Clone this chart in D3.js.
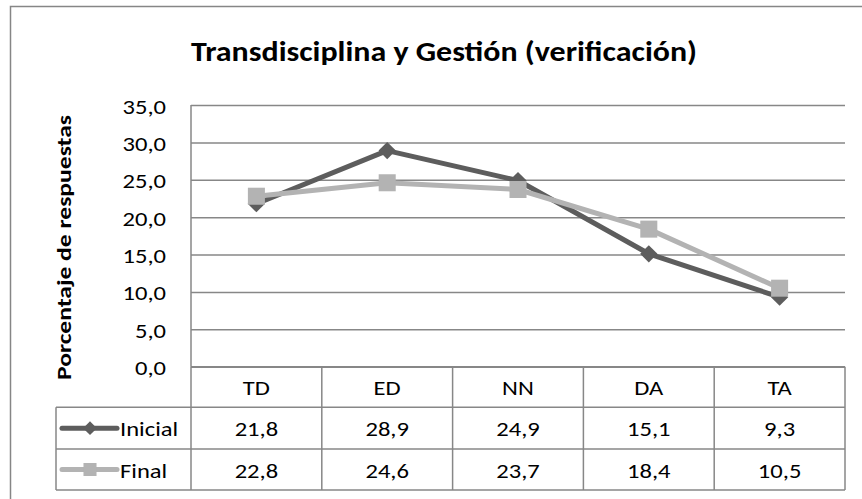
<!DOCTYPE html>
<html>
<head>
<meta charset="utf-8">
<script src="https://cdn.jsdelivr.net/npm/d3@7"></script>
<style>
  body { margin: 0; background: #fff; }
  text { font-family: Carlito, "Liberation Sans Narrow", "Open Sans", sans-serif; fill: #000; }
</style>
</head>
<body>
<div id="chart"></div>
<script>
// chart data
const categories = ["TD", "ED", "NN", "DA", "TA"];
const inicial = [21.8, 28.9, 24.9, 15.1, 9.3];
const final = [22.8, 24.6, 23.7, 18.4, 10.5];
const seriesNames = ["Inicial", "Final"];
const yTicks = [0, 5, 10, 15, 20, 25, 30, 35];
const titleText = "Transdisciplina y Gestión (verificación)";
const yTitle = "Porcentaje de respuestas";

const W = 862, H = 499;
const plot = {left: 191, right: 845, top: 105, bottom: 366.7};
const rowH = [40.6, 41.7, 41];   // header, inicial, final
const legendLeft = 56;
const gridColor = "#878787";
const colors = ["#5d5d5d", "#b3b3b3"];
const bodySize = "21px";
const stretchK = 1.17;

const locale = d3.formatLocale({decimal: ",", thousands: ".", grouping: [3], currency: ["", "€"]});
const fmt = locale.format(".1f");

// widen the glyphs a little along the reading direction
function stretch(sel, k) {
    sel.each(function () {
        const len = this.getComputedTextLength();
        d3.select(this)
            .attr("textLength", len * k)
            .attr("lengthAdjust", "spacingAndGlyphs");
    });
}

const svg = d3.select("#chart").append("svg")
    .attr("width", W)
    .attr("height", H);

// outer frame (continues past the picture edge)
svg.append("rect")
    .attr("x", 10.5).attr("y", 6.5)
    .attr("width", W + 20).attr("height", H + 20)
    .attr("fill", "none")
    .attr("stroke", "#868686")
    .attr("stroke-width", 1.5);

svg.append("text")
    .attr("x", 444).attr("y", 61)
    .attr("text-anchor", "middle")
    .attr("textLength", 506)
    .attr("lengthAdjust", "spacingAndGlyphs")
    .style("font-size", "28px")
    .style("font-weight", "bold")
    .text(titleText);

const xScale = d3.scaleBand().domain(categories).range([plot.left, plot.right]);
const yScale = d3.scaleLinear().domain([0, 35]).range([plot.bottom, plot.top]);

// y axis with gridlines
const yAxisG = svg.append("g")
    .attr("class", "yAxisG")
    .attr("transform", "translate(" + plot.left + ",0)")
    .call(d3.axisLeft(yScale)
        .tickValues(yTicks)
        .tickFormat(fmt)
        .tickSize(-(plot.right - plot.left))
        .tickPadding(25));
yAxisG.select(".domain").remove();
yAxisG.selectAll(".tick line")
    .attr("stroke", gridColor)
    .attr("stroke-width", 1.5);
yAxisG.selectAll(".tick text")
    .style("font-size", bodySize)
    .attr("dy", "8")
    .attr("fill", "#000")
    .call(stretch, stretchK);

svg.append("line")
    .attr("x1", plot.left).attr("x2", plot.left)
    .attr("y1", plot.top).attr("y2", plot.bottom)
    .attr("stroke", gridColor).attr("stroke-width", 1.5);

svg.append("text")
    .attr("transform", "translate(71,247.5) rotate(-90)")
    .attr("text-anchor", "middle")
    .attr("textLength", 265)
    .attr("lengthAdjust", "spacingAndGlyphs")
    .style("font-size", "21px")
    .style("font-weight", "bold")
    .text(yTitle);

// lines + markers
const cx = d => xScale(d) + xScale.bandwidth() / 2;
const line = d3.line().x((v, i) => cx(categories[i])).y(v => yScale(v));
const diamond = d3.symbol().type(d3.symbolDiamond2).size(190);
const square = d3.symbol().type(d3.symbolSquare).size(290);

[inicial, final].forEach((vals, s) => {
    svg.append("path")
        .datum(vals)
        .attr("d", line)
        .attr("fill", "none")
        .attr("stroke", colors[s])
        .attr("stroke-width", 5)
        .attr("stroke-linejoin", "round");
    svg.selectAll(".marker" + s)
        .data(vals)
        .join("path")
        .attr("class", "marker" + s)
        .attr("transform", (v, i) => "translate(" + cx(categories[i]) + "," + yScale(v) + ")")
        .attr("d", s === 0 ? diamond : square)
        .attr("fill", colors[s]);
});

// data table
const y0 = plot.bottom;
const y1 = y0 + rowH[0];
const y2 = y1 + rowH[1];
const y3 = y2 + rowH[2];
const tableG = svg.append("g").attr("class", "tableG");
const hl = (xa, xb, y) => tableG.append("line")
    .attr("x1", xa).attr("x2", xb).attr("y1", y).attr("y2", y)
    .attr("stroke", gridColor).attr("stroke-width", 1.5);
const vl = (x, ya, yb) => tableG.append("line")
    .attr("x1", x).attr("x2", x).attr("y1", ya).attr("y2", yb)
    .attr("stroke", gridColor).attr("stroke-width", 1.5);

hl(plot.left, plot.right, y0);
hl(legendLeft, plot.right, y1);
hl(legendLeft, plot.right, y2);
hl(legendLeft, plot.right, y3);
vl(legendLeft, y1, y3);
vl(plot.left, y0, y3);
categories.forEach(c => vl(xScale(c) + xScale.bandwidth(), y0, y3));

tableG.selectAll(".catLabel")
    .data(categories)
    .join("text")
    .attr("class", "catLabel")
    .attr("x", d => cx(d))
    .attr("y", (y0 + y1) / 2 + 8)
    .attr("text-anchor", "middle")
    .style("font-size", bodySize)
    .text(d => d)
    .call(stretch, stretchK);

const smallDiamond = d3.symbol().type(d3.symbolDiamond2).size(120);
const smallSquare = d3.symbol().type(d3.symbolSquare).size(170);

[inicial, final].forEach((vals, s) => {
    const yr = s === 0 ? y1 : y2;
    const ym = yr + rowH[s + 1] / 2;
    tableG.selectAll(".val" + s)
        .data(vals)
        .join("text")
        .attr("class", "val" + s)
        .attr("x", (v, i) => cx(categories[i]))
        .attr("y", ym + 8)
        .attr("text-anchor", "middle")
        .style("font-size", bodySize)
        .text(v => fmt(v))
        .call(stretch, stretchK);
    // legend key
    tableG.append("line")
        .attr("x1", 62).attr("x2", 117)
        .attr("y1", ym).attr("y2", ym)
        .attr("stroke", colors[s]).attr("stroke-width", 5)
        .attr("stroke-linecap", "round");
    tableG.append("path")
        .attr("transform", "translate(90," + ym + ")")
        .attr("d", s === 0 ? smallDiamond : smallSquare)
        .attr("fill", colors[s]);
    tableG.append("text")
        .attr("x", 120)
        .attr("y", ym + 8)
        .style("font-size", bodySize)
        .text(seriesNames[s])
        .call(stretch, stretchK);
});
</script>
</body>
</html>
